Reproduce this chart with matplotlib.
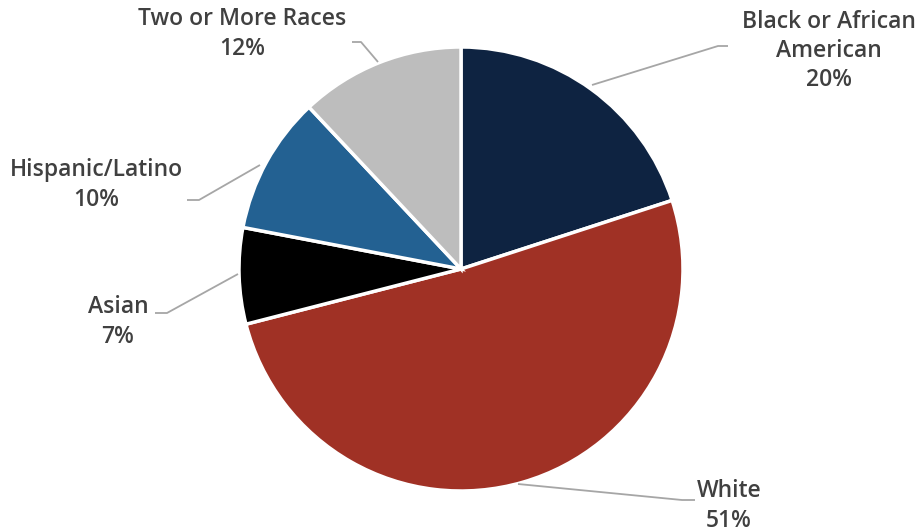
import matplotlib.pyplot as plt

labels = ['Black or African\nAmerican', 'White', 'Asian', 'Hispanic/Latino', 'Two or More Races']
values = [20, 51, 7, 10, 12]
colors = ['#0E2341', '#A03125', '#000000', '#236192', '#BDBDBD']

# label text centres and leader-line paths, in pixel coords (y from top)
text_pos = [(829, 51), (729, 506), (118, 322), (96, 185), (242, 34)]
leaders = [
    [(592, 85), (718, 46), (728, 46)],
    [(518, 484), (682, 500), (695, 500)],
    [(238, 274), (167, 313), (155, 313)],
    [(260, 165), (199, 200), (187, 200)],
    [(378, 62), (361, 42), (352, 42)],
]

W, H = 923, 531
fig = plt.figure(figsize=(W / 100, H / 100), dpi=100)
ax = fig.add_axes([0, 0, 1, 1])

ax.pie(values, colors=colors, startangle=90, counterclock=False,
       center=(461, H - 269), radius=222, frame=True,
       wedgeprops=dict(edgecolor='white', linewidth=2.5))
ax.set_xlim(0, W)
ax.set_ylim(0, H)
ax.set_aspect('equal')
ax.axis('off')

for lab, val, (tx, ty), path in zip(labels, values, text_pos, leaders):
    xs = [p[0] for p in path]
    ys = [H - p[1] for p in path]
    ax.plot(xs, ys, color='#A6A6A6', lw=1.3, solid_capstyle='butt')
    ax.text(tx, H - ty, f'{lab}\n{val}%', ha='center', va='center',
            fontsize=16.5, fontweight='semibold', color='#404040',
            family='Open Sans', linespacing=1.28)

fig.savefig('out.png', dpi=100)
